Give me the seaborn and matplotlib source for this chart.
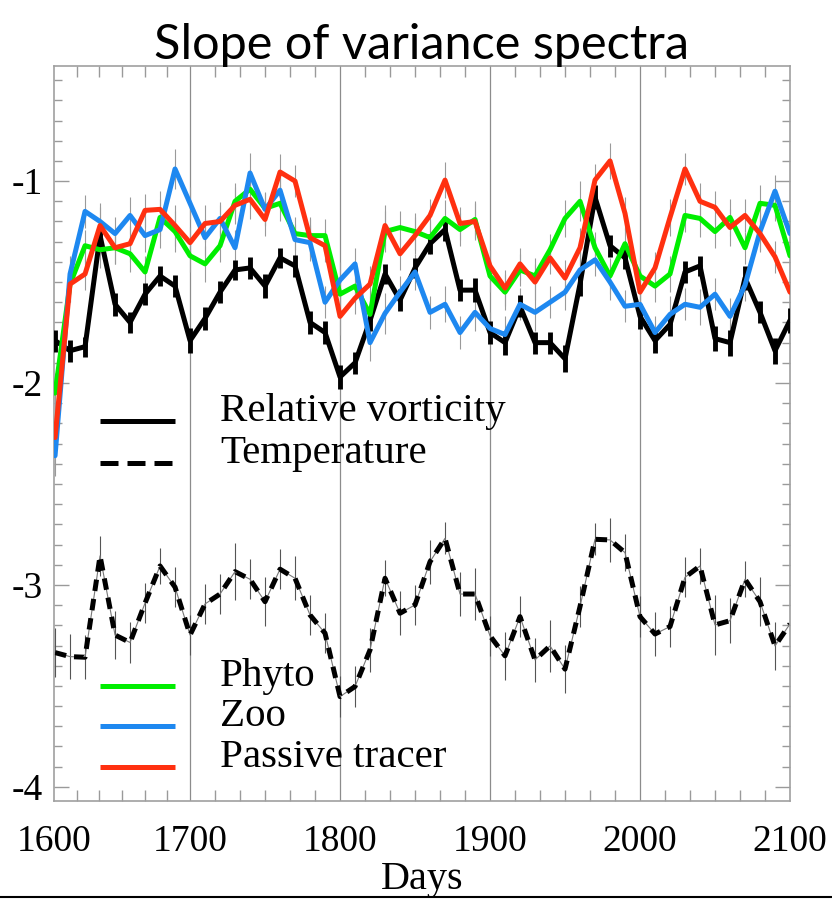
import numpy as np
import matplotlib
matplotlib.use('Agg')
import matplotlib.pyplot as plt
import seaborn as sns
from matplotlib.lines import Line2D

# Data (one point every 10 days)
days = list(range(1610, 2101, 10))

vorticity = [-1.79, -1.84, -1.82, -1.27, -1.61, -1.70, -1.56, -1.47, -1.52, -1.79,
             -1.68, -1.55, -1.44, -1.43, -1.52, -1.38, -1.42, -1.70, -1.75, -1.97,
             -1.90, -1.69, -1.46, -1.59, -1.43, -1.31, -1.24, -1.54, -1.54, -1.75,
             -1.80, -1.62, -1.80, -1.80, -1.88, -1.51, -1.08, -1.32, -1.38, -1.67,
             -1.79, -1.71, -1.45, -1.42, -1.78, -1.80, -1.48, -1.65, -1.84, -1.69]
vorticity_err = [0.055, 0.055, 0.05, 0.06, 0.058, 0.054, 0.055, 0.05, 0.055, 0.062,
                 0.055, 0.055, 0.05, 0.055, 0.06, 0.05, 0.055, 0.058, 0.055, 0.058,
                 0.055, 0.05, 0.05, 0.055, 0.05, 0.05, 0.055, 0.055, 0.06, 0.058,
                 0.06, 0.055, 0.055, 0.055, 0.066, 0.06, 0.06, 0.055, 0.055, 0.06,
                 0.06, 0.055, 0.055, 0.05, 0.06, 0.065, 0.06, 0.055, 0.065, 0.06]

temperature = [-3.335, -3.355, -3.358, -2.856, -3.248, -3.285, -3.09, -2.906, -3.011, -3.248,
               -3.094, -3.045, -2.934, -2.972, -3.083, -2.922, -2.967, -3.149, -3.239, -3.553,
               -3.503, -3.322, -2.967, -3.14, -3.099, -2.885, -2.769, -3.045, -3.045, -3.252,
               -3.351, -3.157, -3.371, -3.302, -3.417, -3.107, -2.774, -2.777, -2.84, -3.157,
               -3.243, -3.206, -2.962, -2.906, -3.198, -3.177, -2.972, -3.083, -3.302, -3.193]
temperature_err = [0.12, 0.11, 0.11, 0.1, 0.12, 0.1, 0.1, 0.09, 0.1, 0.1,
                   0.1, 0.1, 0.14, 0.1, 0.12, 0.1, 0.11, 0.1, 0.1, 0.1,
                   0.1, 0.11, 0.09, 0.11, 0.1, 0.11, 0.08, 0.11, 0.13, 0.1,
                   0.12, 0.1, 0.11, 0.13, 0.12, 0.1, 0.08, 0.11, 0.09, 0.1,
                   0.11, 0.1, 0.1, 0.09, 0.15, 0.11, 0.09, 0.12, 0.12, 0.1]

phyto = [-2.05, -1.51, -1.32, -1.34, -1.33, -1.36, -1.45, -1.18, -1.25, -1.37,
         -1.41, -1.32, -1.10, -1.04, -1.135, -1.11, -1.26, -1.27, -1.27, -1.56,
         -1.52, -1.66, -1.25, -1.23, -1.25, -1.28, -1.185, -1.24, -1.19, -1.47,
         -1.55, -1.44, -1.47, -1.34, -1.185, -1.10, -1.33, -1.47, -1.31, -1.47,
         -1.52, -1.46, -1.17, -1.185, -1.25, -1.18, -1.33, -1.11, -1.12, -1.37]
zoo = [-2.36, -1.46, -1.15, -1.20, -1.26, -1.17, -1.27, -1.24, -0.94, -1.11,
       -1.28, -1.185, -1.33, -0.96, -1.14, -1.045, -1.29, -1.305, -1.60, -1.49,
       -1.41, -1.80, -1.655, -1.55, -1.45, -1.65, -1.61, -1.75, -1.65, -1.73,
       -1.76, -1.61, -1.65, -1.60, -1.55, -1.44, -1.39, -1.50, -1.62, -1.61,
       -1.75, -1.66, -1.61, -1.625, -1.56, -1.67, -1.515, -1.25, -1.05, -1.26]
tracer = [-2.27, -1.51, -1.46, -1.22, -1.33, -1.31, -1.145, -1.14, -1.22, -1.305,
          -1.21, -1.20, -1.12, -1.09, -1.19, -0.955, -1.00, -1.28, -1.32, -1.67,
          -1.58, -1.51, -1.22, -1.36, -1.27, -1.17, -0.995, -1.21, -1.20, -1.42,
          -1.53, -1.41, -1.50, -1.38, -1.48, -1.33, -0.995, -0.90, -1.16, -1.55,
          -1.43, -1.18, -0.94, -1.10, -1.13, -1.23, -1.17, -1.26, -1.375, -1.55]
bio_err = [0.1, 0.09, 0.08, 0.09, 0.08, 0.09, 0.08, 0.09, 0.1, 0.08,
           0.09, 0.08, 0.09, 0.1, 0.08, 0.09, 0.08, 0.09, 0.08, 0.09,
           0.08, 0.09, 0.1, 0.08, 0.09, 0.08, 0.09, 0.08, 0.09, 0.08,
           0.09, 0.08, 0.09, 0.08, 0.09, 0.1, 0.08, 0.09, 0.08, 0.09,
           0.08, 0.09, 0.08, 0.09, 0.08, 0.09, 0.08, 0.09, 0.08, 0.09]

x_major = [1609.3, 1700, 1800, 1900, 2000, 2100]
x_labels = ['1600', '1700', '1800', '1900', '2000', '2100']
y_major = [-4, -3, -2, -1]
y_labels = ['-4', '-3', '-2', '-1']

labels_top = ['Relative vorticity', 'Temperature']
labels_bottom = ['Phyto', 'Zoo', 'Passive tracer']
c_phyto, c_zoo, c_tracer = '#00ee00', '#1e88f0', '#ff3010'
gray = '#9a9a9a'
temp_dash = (0, (2.3, 1.6))

sns.set_style('ticks')
plt.rcParams['font.family'] = ['Liberation Serif', 'DejaVu Serif']
plt.rcParams['axes.unicode_minus'] = False
plt.rcParams['text.color'] = 'black'
plt.rcParams['axes.labelcolor'] = 'black'

fig = plt.figure(figsize=(8.32, 9.01), dpi=100)
ax = fig.add_axes([54 / 832, 1 - 801 / 901, 736 / 832, 735 / 901])

# vertical grid at the labelled days
for xv in x_major[1:-1]:
    ax.axvline(xv, color='#8c8c8c', lw=0.9, zorder=0)

# Temperature: thin connecting line + thick dashes + thin error bars
ax.errorbar(days, temperature, yerr=temperature_err, fmt='none', ecolor='#555555',
            elinewidth=0.8, zorder=1)
sns.lineplot(x=days, y=temperature, color='#777777', lw=0.8, ax=ax, zorder=1)
sns.lineplot(x=days, y=temperature, color='black', lw=3.6, ax=ax,
             linestyle=temp_dash, zorder=2)

# Relative vorticity
ax.errorbar(days, vorticity, yerr=vorticity_err, fmt='none', ecolor='black',
            elinewidth=3.5, zorder=3)
sns.lineplot(x=days, y=vorticity, color='black', lw=3.6, ax=ax, zorder=3)

# Biology + tracer
for vals, col in [(phyto, c_phyto), (zoo, c_zoo), (tracer, c_tracer)]:
    ax.errorbar(days, vals, yerr=bio_err, fmt='none', ecolor=gray, elinewidth=0.8, zorder=2.5)
    sns.lineplot(x=days, y=vals, color=col, lw=3.6, ax=ax, zorder=4)

ax.set_xlim(x_major[0], x_major[-1])
ax.set_ylim(-4.07, -0.43)

# ticks
ax.set_xticks(x_major)
ax.set_xticklabels(x_labels)
x_minor = np.concatenate([np.linspace(a, b, 7)[1:-1] for a, b in zip(x_major[:-1], x_major[1:])])
ax.set_xticks(x_minor, minor=True)
ax.set_yticks(y_major)
ax.set_yticklabels(y_labels)
ax.set_yticks(np.arange(-4.0, -0.45, 0.1), minor=True)

ax.tick_params(axis='x', which='major', length=0, pad=17, labelsize=27, labelcolor='black')
ax.tick_params(axis='x', which='minor', length=8, width=1, direction='in',
               top=True, bottom=True, color=gray)
ax.tick_params(axis='y', which='major', length=11, width=1, direction='in',
               left=True, right=True, color=gray, labelsize=27, pad=8, labelcolor='black')
ax.tick_params(axis='y', which='minor', length=6, width=1, direction='in',
               left=True, right=True, color=gray)
for sp in ax.spines.values():
    sp.set_color('#a0a0a0')
    sp.set_linewidth(1.2)

ax.set_xlabel('Days', fontsize=29, labelpad=1)
ax.set_ylabel('')
ax.set_title('Slope of variance spectra', fontsize=35, family=['Lato', 'DejaVu Sans'],
             pad=5, color='black')

# legend: sample line sits on the text baseline
leg_x0, leg_x1, leg_tx = 0.0625, 0.164, 0.2255
rows = [(labels_top[0], dict(color='black'), 0.517),
        (labels_top[1], dict(color='black', linestyle=(0, (3.6, 1.8))), 0.460),
        (labels_bottom[0], dict(color=c_phyto), 0.157),
        (labels_bottom[1], dict(color=c_zoo), 0.102),
        (labels_bottom[2], dict(color=c_tracer), 0.046)]
for text, style, yy in rows:
    ax.plot([leg_x0, leg_x1], [yy, yy], transform=ax.transAxes, lw=3.6,
            solid_capstyle='butt', dash_capstyle='butt', **style)
    ax.text(leg_tx, yy, text, transform=ax.transAxes, fontsize=29.5, va='baseline', ha='left')

# rule along the bottom edge of the picture
fig.add_artist(Line2D([0, 1], [0.0045, 0.0045], transform=fig.transFigure, color='black', lw=1.5))

fig.savefig('out.png', dpi=100)
